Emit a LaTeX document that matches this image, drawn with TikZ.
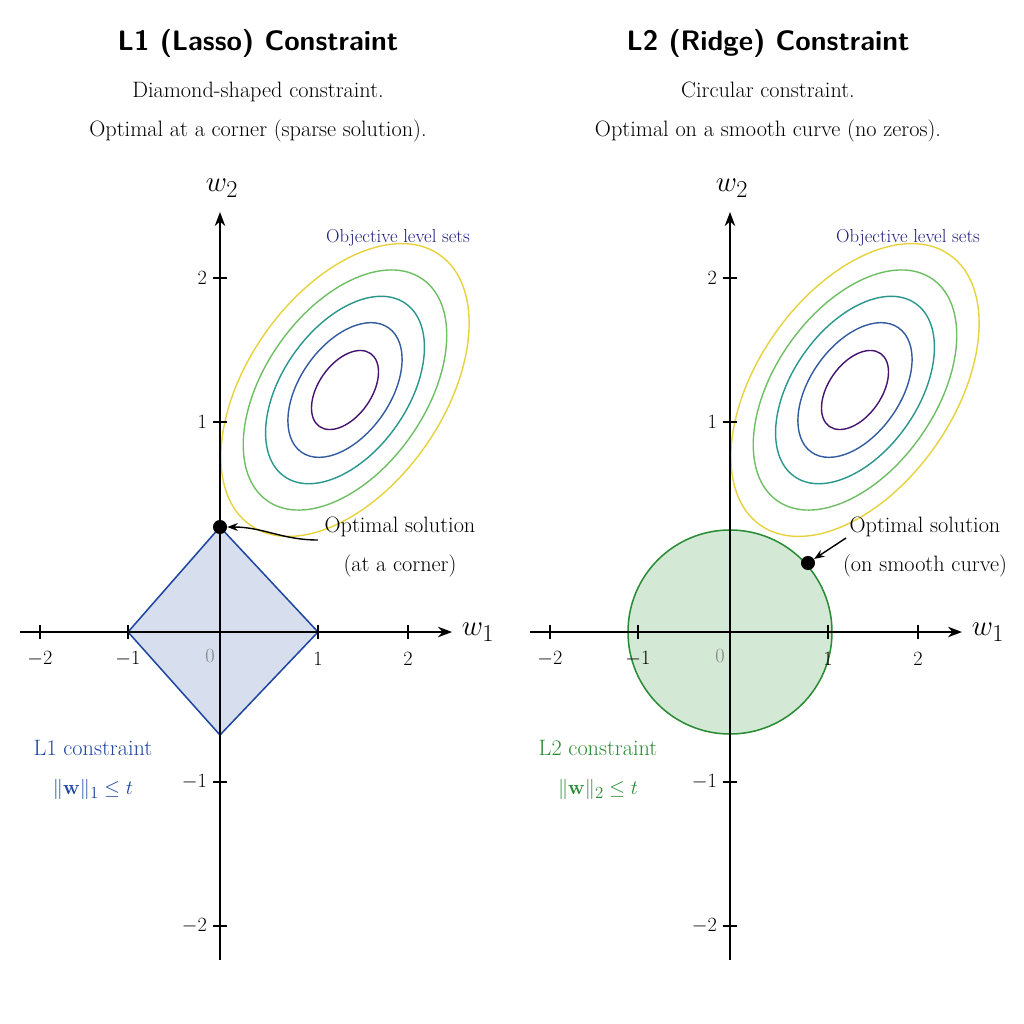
\documentclass[tikz,border=0pt]{standalone}
\usepackage{xcolor}
\usepackage{tikz}
\usetikzlibrary{positioning,arrows.meta}
\definecolor{lblue}{RGB}{30,70,160}
\definecolor{lgreen}{RGB}{40,140,50}
\definecolor{navy}{RGB}{30,30,130}
\definecolor{lvA}{RGB}{230,210,60}
\definecolor{lvB}{RGB}{110,190,100}
\definecolor{lvC}{RGB}{40,150,140}
\definecolor{lvD}{RGB}{50,90,160}
\definecolor{lvE}{RGB}{70,20,110}
\tikzset{
  ttl/.style={font=\sffamily\bfseries\fontsize{24}{28}\selectfont},
  sub/.style={font=\fontsize{19}{33}\selectfont, align=center},
  tick/.style={font=\fontsize{17}{19}\selectfont},
  axlab/.style={font=\fontsize{30}{32}\selectfont},
  axis/.style={line width=1.2pt, -{Stealth[length=12pt]}},
  lev/.style={line width=1.2pt},
  dot/.style={circle, fill=black, inner sep=0pt, minimum size=12pt},
}
\begin{document}
\begin{tikzpicture}[x=0.03cm, y=-0.03cm]
\useasboundingbox (0,0) rectangle (1024,1024);

% shapes first
\draw[line width=1.3pt, lblue, fill=lblue!18] (128,632) -- (220,527) -- (318,632) -- (220,735) -- cycle;
\draw[line width=1.3pt, lgreen, fill=lgreen!20] (730,632) circle (102);

\foreach \ox/\nm in {0/L, 510/R} {
  \begin{scope}[xshift=\ox*0.03cm]
  % level sets
  \foreach \s/\c in {1/lvA, 0.82/lvB, 0.64/lvC, 0.46/lvD, 0.27/lvE}
    \draw[lev, \c, rotate around={55:(345,390)}] (345,390) ellipse ({165*\s} and {98*\s});
  \node[font=\fontsize{16}{18}\selectfont, text=navy] at (398,238) {Objective level sets};
  % axes
  \coordinate (xs\nm) at (20,632);  \coordinate (xe\nm) at (452,632);
  \coordinate (ys\nm) at (220,960); \coordinate (ye\nm) at (220,212);
  \draw[axis] (xs\nm) -- (xe\nm);
  \draw[axis] (ys\nm) -- (ye\nm);
  \node[axlab] at (478,632) {$w_1$};
  \node[axlab] at (222,188) {$w_2$};
  \foreach \x/\t in {40/$-2$, 128/$-1$, 318/$1$, 408/$2$} {
    \draw[line width=1.2pt] (\x,625) -- (\x,639);
    \node[tick] at (\x,659) {\t};
  }
  \node[tick, text=gray] at (210,656) {$0$};
  \foreach \y/\t in {278/$2$, 422/$1$, 782/$-1$, 926/$-2$} {
    \draw[line width=1.2pt] (213,\y) -- (227,\y);
    \node[tick, left] at (211,\y) {\t};
  }
  \end{scope}
}

% left panel
\node[ttl] (titleL) at (258,43) {L1 (Lasso) Constraint};
\node[sub] (subL) at (258,112) {Diamond-shaped constraint.\\Optimal at a corner (sparse solution).};
\node[dot] (optL) at (220,527) {};
\node[sub] (txtL) at (400,547) {Optimal solution\\(at a corner)};
\draw[line width=1.2pt, -{Stealth[length=9pt]}] (318,540) to[out=180, in=0] (optL);
\node[sub, text=lblue] (conL) at (93,770) {L1 constraint\\$\|\mathbf{w}\|_1 \leq t$};

% right panel
\node[ttl] (titleR) at (768,43) {L2 (Ridge) Constraint};
\node[sub] (subR) at (768,112) {Circular constraint.\\Optimal on a smooth curve (no zeros).};
\node[dot] (optR) at (808,563) {};
\node[sub] (txtR) at (925,547) {Optimal solution\\(on smooth curve)};
\draw[line width=1.2pt, -{Stealth[length=9pt]}] (846,538) -- (optR);
\node[sub, text=lgreen] (conR) at (598,770) {L2 constraint\\$\|\mathbf{w}\|_2 \leq t$};
\end{tikzpicture}
\end{document}
